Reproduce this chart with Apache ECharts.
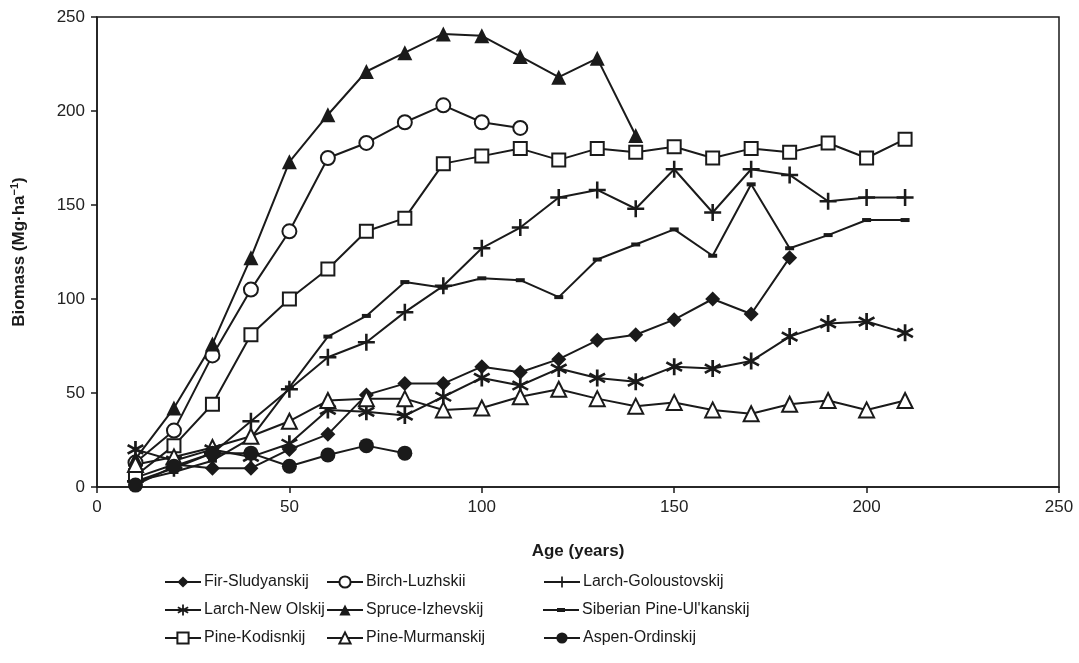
<!DOCTYPE html>
<html>
<head>
<meta charset="utf-8">
<script src="https://cdn.jsdelivr.net/npm/echarts@6/dist/echarts.min.js"></script>
<style>
html,body{margin:0;padding:0;background:#fff;}
#chart{width:1079px;height:663px;}
</style>
</head>
<body>
<div id="chart"></div>
<script>
// ---- data ----
var ages = [10,20,30,40,50,60,70,80,90,100,110,120,130,140,150,160,170,180,190,200,210];
var xTicks = [0,50,100,150,200,250];
var yTicks = [0,50,100,150,200,250];

var firSludyanskij     = [5,12,10,10,20,28,49,55,55,64,61,68,78,81,89,100,92,122];
var birchLuzhskii      = [13,30,70,105,136,175,183,194,203,194,191];
var larchGoloustovskij = [3,10,18,35,52,69,77,93,107,127,138,154,158,148,169,146,169,166,152,154,154];
var larchNewOlskij     = [20,14,20,16,23,41,40,38,48,58,54,63,58,56,64,63,67,80,87,88,82];
var spruceIzhevskij    = [15,42,76,122,173,198,221,231,241,240,229,218,228,187];
var siberianPine       = [3,8,14,26,53,80,91,109,106,111,110,101,121,129,137,123,161,127,134,142,142];
var pineKodisnkij      = [6,22,44,81,100,116,136,143,172,176,180,174,180,178,181,175,180,178,183,175,185];
var pineMurmanskij     = [12,16,21,27,35,46,47,47,41,42,48,52,47,43,45,41,39,44,46,41,46];
var aspenOrdinskij     = [1,11,18,18,11,17,22,18];

var seriesNames = ['Fir-Sludyanskij','Birch-Luzhskii','Larch-Goloustovskij',
                   'Larch-New Olskij','Spruce-Izhevskij','Siberian Pine-Ul\'kanskij',
                   'Pine-Kodisnkij','Pine-Murmanskij','Aspen-Ordinskij'];
var seriesData = [firSludyanskij,birchLuzhskii,larchGoloustovskij,larchNewOlskij,
                  spruceIzhevskij,siberianPine,pineKodisnkij,pineMurmanskij,aspenOrdinskij];

// ---- styles ----
var INK = '#1a1a1a';
var FONT = 'Liberation Sans, Arial, sans-serif';
var LEGFONT = '"Liberation Sans Narrow", "Arial Narrow", "Liberation Sans", sans-serif';
var plusPath = 'path://M-1.2,-8L1.2,-8L1.2,8L-1.2,8Z M-8,-1.2L8,-1.2L8,1.2L-8,1.2Z';
var starPath = 'path://M-1.2,-8L1.2,-8L1.2,8L-1.2,8Z M7.53,2.96L6.33,5.04L-7.53,-2.96L-6.33,-5.04Z M6.33,-5.04L7.53,-2.96L-6.33,5.04L-7.53,2.96Z';
var dashLegendIcon = 'path://M0,5.5L36,5.5L36,7.5L0,7.5Z M14,4.5L22,4.5L22,8.5L14,8.5Z';
var symbols = [
  {symbol:'diamond', size:15, fill:INK},
  {symbol:'circle', size:14, fill:'#fff'},
  {symbol:plusPath, size:17, fill:INK},
  {symbol:starPath, size:17, fill:INK},
  {symbol:'triangle', size:15, fill:INK},
  {symbol:'rect', size:[9,4], fill:INK},
  {symbol:'rect', size:13, fill:'#fff'},
  {symbol:'triangle', size:15, fill:'#fff'},
  {symbol:'circle', size:15, fill:INK}
];

var series = seriesNames.map(function(name,i){
  var s = symbols[i];
  var data = seriesData[i].map(function(v,j){ return [ages[j], v]; });
  return {
    name:name, type:'line', data:data,
    symbol:s.symbol, symbolSize:s.size, showAllSymbol:true,
    lineStyle:{color:INK, width:2},
    itemStyle:{color:s.fill, borderColor:INK, borderWidth:(s.fill==='#fff')?2:0},
    emphasis:{disabled:true}
  };
});

// legend positions (3 x 3 grid)
var legCols = [159, 321, 538];
var legRows = [569, 597, 625];
var legends = seriesNames.map(function(name,i){
  var lg = {
    data:[name], left:legCols[i%3], top:legRows[Math.floor(i/3)],
    itemWidth:36, itemHeight:14, itemGap:0,
    textStyle:{fontFamily:LEGFONT, fontSize:16, color:'#1a1a1a', padding:[0,0,0,-2]},
    selectedMode:false
  };
  if (i === 5) lg.icon = dashLegendIcon;
  return lg;
});

var chart = echarts.init(document.getElementById('chart'), null, {renderer:'canvas'});
chart.setOption({
  animation:false,
  backgroundColor:'#fff',
  textStyle:{fontFamily:FONT},
  grid:{left:97, right:20, top:17, bottom:176, show:true, borderColor:INK, borderWidth:1.5, backgroundColor:'transparent'},
  legend:legends,
  xAxis:{
    type:'value', min:xTicks[0], max:xTicks[xTicks.length-1], interval:50,
    name:'Age (years)', nameLocation:'middle', nameGap:56,
    nameTextStyle:{fontFamily:FONT, fontSize:17, fontWeight:'bold', color:'#1a1a1a'},
    axisLine:{show:true, lineStyle:{color:INK, width:1.5}},
    axisTick:{show:true, inside:false, length:6, lineStyle:{color:INK, width:1.5}},
    axisLabel:{fontSize:17, color:'#222', margin:12},
    splitLine:{show:false}
  },
  yAxis:{
    type:'value', min:yTicks[0], max:yTicks[yTicks.length-1], interval:50,
    name:'Biomass (Mg·ha{sup|−1})', nameLocation:'middle', nameGap:68, nameRotate:90,
    nameTextStyle:{fontFamily:FONT, fontSize:17, fontWeight:'bold', color:'#1a1a1a',
      rich:{sup:{fontSize:11, fontWeight:'bold', color:'#1a1a1a', padding:[0,0,9,0]}}},
    axisLine:{show:true, lineStyle:{color:INK, width:1.5}},
    axisTick:{show:true, inside:false, length:6, lineStyle:{color:INK, width:1.5}},
    axisLabel:{fontSize:17, color:'#222', margin:12},
    splitLine:{show:false}
  },
  series:series
});
</script>
</body>
</html>
